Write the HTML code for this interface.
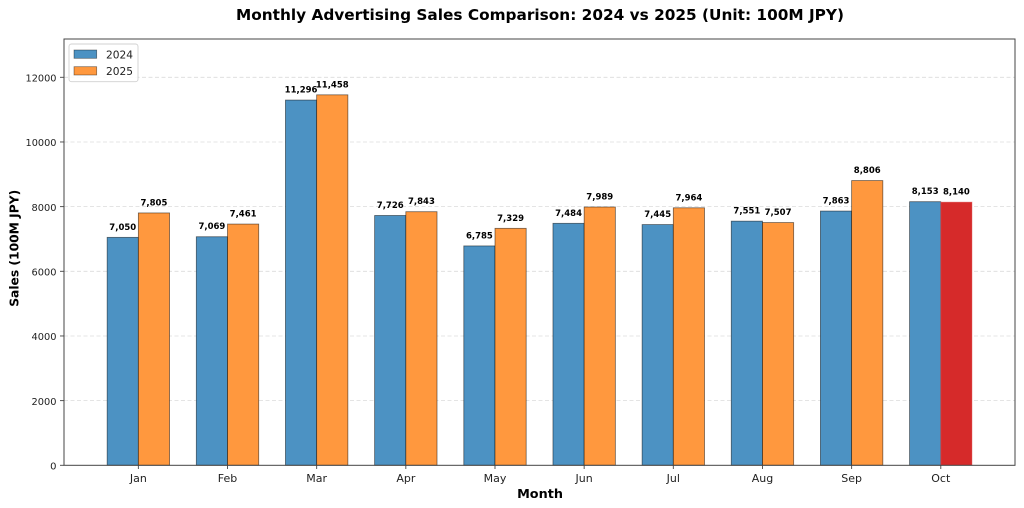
<!DOCTYPE html>
<html><head><meta charset="utf-8"><style>
html,body{margin:0;padding:0;background:#fff;}
svg{display:block;font-family:"DejaVu Sans","Liberation Sans",sans-serif;}
</style></head><body>
<svg width="1024" height="508" viewBox="0 0 1024 508" xmlns="http://www.w3.org/2000/svg">
<rect x="0" y="0" width="1024" height="508" fill="#fff"/>
<text x="540" y="20" text-anchor="middle" font-size="15.5" font-weight="bold" fill="#000" textLength="608" lengthAdjust="spacingAndGlyphs">Monthly Advertising Sales Comparison: 2024 vs 2025 (Unit: 100M JPY)</text>
<g stroke="#b0b0b0" stroke-opacity="0.45" stroke-width="0.8" stroke-dasharray="4,2.5">
<line x1="64" x2="1015" y1="400.63" y2="400.63"/>
<line x1="64" x2="1015" y1="335.97" y2="335.97"/>
<line x1="64" x2="1015" y1="271.3" y2="271.3"/>
<line x1="64" x2="1015" y1="206.63" y2="206.63"/>
<line x1="64" x2="1015" y1="141.97" y2="141.97"/>
<line x1="64" x2="1015" y1="77.3" y2="77.3"/>
</g>
<g stroke="#000" stroke-opacity="0.55" stroke-width="0.8">
<rect x="107.15" y="237.35" width="31.2" height="227.95" fill="#4c92c3"/>
<rect x="138.35" y="212.94" width="31.2" height="252.36" fill="#ff983e"/>
<rect x="196.31" y="236.74" width="31.2" height="228.56" fill="#4c92c3"/>
<rect x="227.51" y="224.06" width="31.2" height="241.24" fill="#ff983e"/>
<rect x="285.47" y="100.06" width="31.2" height="365.24" fill="#4c92c3"/>
<rect x="316.67" y="94.83" width="31.2" height="370.47" fill="#ff983e"/>
<rect x="374.63" y="215.49" width="31.2" height="249.81" fill="#4c92c3"/>
<rect x="405.83" y="211.71" width="31.2" height="253.59" fill="#ff983e"/>
<rect x="463.79" y="245.92" width="31.2" height="219.38" fill="#4c92c3"/>
<rect x="494.99" y="228.33" width="31.2" height="236.97" fill="#ff983e"/>
<rect x="552.95" y="223.32" width="31.2" height="241.98" fill="#4c92c3"/>
<rect x="584.15" y="206.99" width="31.2" height="258.31" fill="#ff983e"/>
<rect x="642.11" y="224.58" width="31.2" height="240.72" fill="#4c92c3"/>
<rect x="673.31" y="207.80" width="31.2" height="257.50" fill="#ff983e"/>
<rect x="731.27" y="221.15" width="31.2" height="244.15" fill="#4c92c3"/>
<rect x="762.47" y="222.57" width="31.2" height="242.73" fill="#ff983e"/>
<rect x="820.43" y="211.06" width="31.2" height="254.24" fill="#4c92c3"/>
<rect x="851.63" y="180.57" width="31.2" height="284.73" fill="#ff983e"/>
<rect x="909.59" y="201.69" width="31.2" height="263.61" fill="#4c92c3"/>
<rect x="940.79" y="202.11" width="31.2" height="263.19" fill="#d62a2a" stroke="#e06060"/>
</g>
<g font-size="8.5" font-weight="bold" text-anchor="middle" fill="#000">
<text x="122.75" y="229.85">7,050</text>
<text x="153.95" y="205.44">7,805</text>
<text x="211.91" y="229.24">7,069</text>
<text x="243.11" y="216.56">7,461</text>
<text x="301.07" y="92.56">11,296</text>
<text x="332.27" y="87.33">11,458</text>
<text x="390.23" y="207.99">7,726</text>
<text x="421.43" y="204.21">7,843</text>
<text x="479.39" y="238.42">6,785</text>
<text x="510.59" y="220.83">7,329</text>
<text x="568.55" y="215.82">7,484</text>
<text x="599.75" y="199.49">7,989</text>
<text x="657.71" y="217.08">7,445</text>
<text x="688.91" y="200.30">7,964</text>
<text x="746.87" y="213.65">7,551</text>
<text x="778.07" y="215.07">7,507</text>
<text x="836.03" y="203.56">7,863</text>
<text x="867.23" y="173.07">8,806</text>
<text x="925.19" y="194.19">8,153</text>
<text x="956.39" y="194.61">8,140</text>
</g>
<rect x="64" y="39" width="951" height="426.3" fill="none" stroke="#444" stroke-width="1"/>
<g stroke="#444" stroke-width="0.9">
<line x1="60" x2="64" y1="465.3" y2="465.3"/>
<line x1="60" x2="64" y1="400.63" y2="400.63"/>
<line x1="60" x2="64" y1="335.97" y2="335.97"/>
<line x1="60" x2="64" y1="271.3" y2="271.3"/>
<line x1="60" x2="64" y1="206.63" y2="206.63"/>
<line x1="60" x2="64" y1="141.97" y2="141.97"/>
<line x1="60" x2="64" y1="77.3" y2="77.3"/>
<line x1="138.35" x2="138.35" y1="465.3" y2="469"/>
<line x1="227.51" x2="227.51" y1="465.3" y2="469"/>
<line x1="316.67" x2="316.67" y1="465.3" y2="469"/>
<line x1="405.83" x2="405.83" y1="465.3" y2="469"/>
<line x1="494.99" x2="494.99" y1="465.3" y2="469"/>
<line x1="584.15" x2="584.15" y1="465.3" y2="469"/>
<line x1="673.31" x2="673.31" y1="465.3" y2="469"/>
<line x1="762.47" x2="762.47" y1="465.3" y2="469"/>
<line x1="851.63" x2="851.63" y1="465.3" y2="469"/>
<line x1="940.79" x2="940.79" y1="465.3" y2="469"/>
</g>
<g font-size="10" text-anchor="end" fill="#222">
<text x="56.5" y="469.5">0</text>
<text x="56.5" y="404.8" textLength="25" lengthAdjust="spacingAndGlyphs">2000</text>
<text x="56.5" y="340.2" textLength="25" lengthAdjust="spacingAndGlyphs">4000</text>
<text x="56.5" y="275.5" textLength="25" lengthAdjust="spacingAndGlyphs">6000</text>
<text x="56.5" y="210.8" textLength="25" lengthAdjust="spacingAndGlyphs">8000</text>
<text x="56.5" y="146.2" textLength="31" lengthAdjust="spacingAndGlyphs">10000</text>
<text x="56.5" y="81.5" textLength="31" lengthAdjust="spacingAndGlyphs">12000</text>
</g>
<g font-size="11" text-anchor="middle" fill="#222">
<text x="138.35" y="482">Jan</text>
<text x="227.51" y="482">Feb</text>
<text x="316.67" y="482">Mar</text>
<text x="405.83" y="482">Apr</text>
<text x="494.99" y="482">May</text>
<text x="584.15" y="482">Jun</text>
<text x="673.31" y="482">Jul</text>
<text x="762.47" y="482">Aug</text>
<text x="851.63" y="482">Sep</text>
<text x="940.79" y="482">Oct</text>
</g>
<text x="540" y="498" text-anchor="middle" font-size="12.8" font-weight="bold" fill="#000">Month</text>
<text transform="translate(18.5,248.3) rotate(-90)" x="0" y="0" text-anchor="middle" font-size="12.5" font-weight="bold" fill="#000" textLength="117" lengthAdjust="spacingAndGlyphs">Sales (100M JPY)</text>
<rect x="69" y="44" width="69" height="37.7" rx="2.5" fill="#fff" fill-opacity="0.85" stroke="#d0d0d0" stroke-width="0.9"/>
<rect x="74" y="50" width="22.7" height="8.3" fill="#4c92c3" stroke="#000" stroke-opacity="0.5" stroke-width="0.7"/>
<rect x="74" y="66.7" width="22.7" height="8.3" fill="#ff983e" stroke="#000" stroke-opacity="0.5" stroke-width="0.7"/>
<g font-size="10.8" fill="#222">
<text x="106" y="58.3" textLength="27" lengthAdjust="spacingAndGlyphs">2024</text>
<text x="106" y="75" textLength="27" lengthAdjust="spacingAndGlyphs">2025</text>
</g>
</svg>
</body></html>
